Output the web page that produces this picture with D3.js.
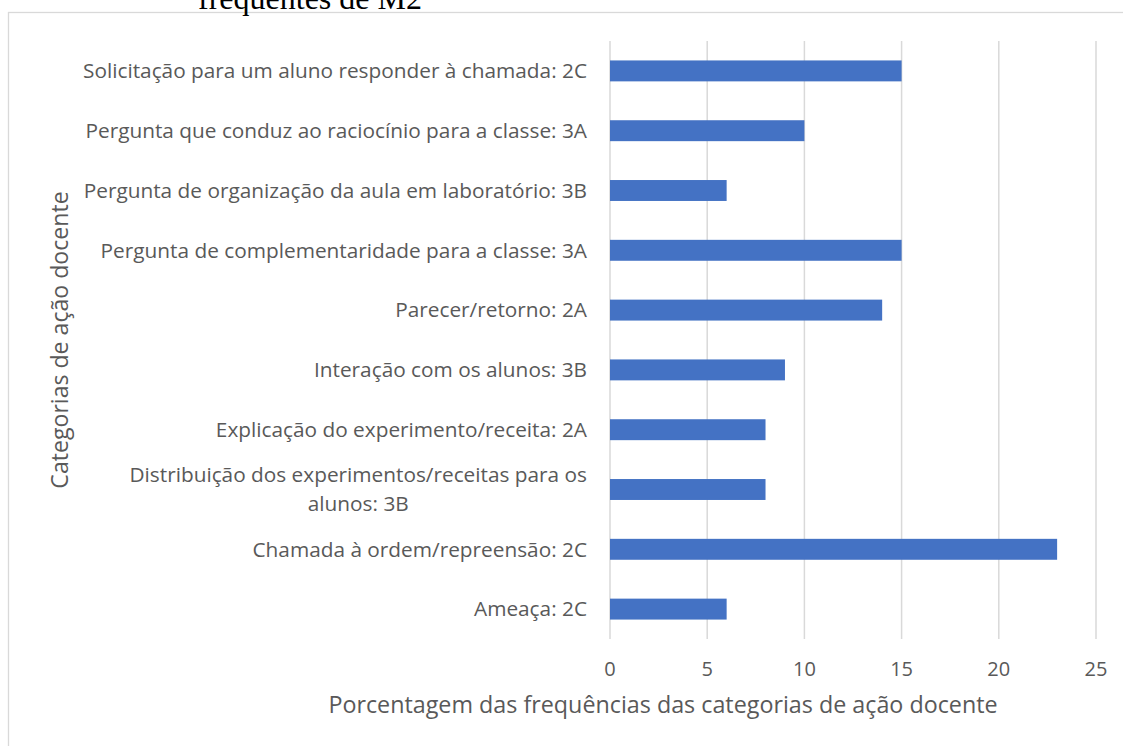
<!DOCTYPE html>
<html><head><meta charset="utf-8">
<script src="https://cdn.jsdelivr.net/npm/d3@7"></script>
<style>
html,body{margin:0;padding:0;background:#fff;}
svg{display:block;}
</style></head>
<body>
<svg id="chart" width="1123" height="746"></svg>
<script>
const categories = [
  "Solicitação para um aluno responder à chamada: 2C",
  "Pergunta que conduz ao raciocínio para a classe: 3A",
  "Pergunta de organização da aula em laboratório: 3B",
  "Pergunta de complementaridade para a classe: 3A",
  "Parecer/retorno: 2A",
  "Interação com os alunos: 3B",
  "Explicação do experimento/receita: 2A",
  "Distribuição dos experimentos/receitas para os alunos: 3B",
  "Chamada à ordem/repreensão: 2C",
  "Ameaça: 2C"
];
const categoryLines = [
  ["Solicitação para um aluno responder à chamada: 2C"],
  ["Pergunta que conduz ao raciocínio para a classe: 3A"],
  ["Pergunta de organização da aula em laboratório: 3B"],
  ["Pergunta de complementaridade para a classe: 3A"],
  ["Parecer/retorno: 2A"],
  ["Interação com os alunos: 3B"],
  ["Explicação do experimento/receita: 2A"],
  ["Distribuição dos experimentos/receitas para os", "alunos: 3B"],
  ["Chamada à ordem/repreensão: 2C"],
  ["Ameaça: 2C"]
];
const values = [15, 10, 6, 15, 14, 9, 8, 8, 23, 6];
const xTicks = [0, 5, 10, 15, 20, 25];
const titleText = "frequentes de M2";
const xTitle = "Porcentagem das frequências das categorias de ação docente";
const yTitle = "Categorias de ação docente";

const svg = d3.select("#chart");
const FONT = "'Open Sans', 'Noto Sans', sans-serif";
const TXT = "#595959";

// outer frame
svg.append("rect").attr("x", 8.5).attr("y", 12.5).attr("width", 1130).attr("height", 760)
  .attr("fill", "none").attr("stroke", "#d9d9d9").attr("stroke-width", 1.3);

// cut-off title from document
svg.append("text").attr("x", 310).attr("y", 9).attr("text-anchor", "middle")
  .attr("font-family", "'Liberation Serif', 'Times New Roman', serif")
  .attr("font-size", 32).attr("fill", "#000").text(titleText);

const x = d3.scaleLinear().domain([0, 25]).range([610, 1096]);
const y = d3.scaleBand().domain(categories).range([41, 639]).paddingInner(0.65).paddingOuter(0.325);

// gridlines
svg.append("g").selectAll("line").data(xTicks).join("line")
  .attr("x1", d => x(d)).attr("x2", d => x(d))
  .attr("y1", 41).attr("y2", 639)
  .attr("stroke", "#d9d9d9").attr("stroke-width", 1.5);

// bars
svg.append("g").selectAll("rect").data(values).join("rect")
  .attr("x", x(0))
  .attr("y", (d, i) => y(categories[i]))
  .attr("width", d => x(d) - x(0))
  .attr("height", y.bandwidth())
  .attr("fill", "#4472c4");

// x tick labels
svg.append("g").selectAll("text").data(xTicks).join("text")
  .attr("x", d => x(d)).attr("y", 676)
  .attr("text-anchor", "middle")
  .attr("font-family", FONT).attr("font-size", 20).attr("fill", TXT)
  .text(d => d);

// category labels
const LABEL_FS = 20.8;
const lineH = 29;
const lab = svg.append("g").selectAll("text").data(categoryLines).join("text")
  .attr("text-anchor", "end")
  .attr("font-family", FONT).attr("font-size", LABEL_FS).attr("fill", TXT)
  .attr("transform", (d, i) => `translate(587, ${y(categories[i]) + y.bandwidth() / 2})`);
lab.each(function (lines) {
  const t = d3.select(this);
  const n = lines.length;
  if (n === 1) {
    t.append("tspan").attr("x", 0).attr("dy", "0.35em").text(lines[0]);
  } else {
    t.attr("text-anchor", "middle");
    lines.forEach((l, k) => {
      t.append("tspan").attr("x", 0).attr("y", (k - (n - 1) / 2) * lineH).attr("dy", "0.35em").text(l);
    });
  }
});
// shift multi-line label so its widest line ends at 587
lab.filter(d => d.length > 1).each(function () {
  const w = d3.max(Array.from(this.querySelectorAll("tspan")), s => s.getComputedTextLength());
  const i = categoryLines.indexOf(d3.select(this).datum());
  d3.select(this).attr("transform", `translate(${587 - w / 2}, ${y(categories[i]) + y.bandwidth() / 2})`);
});

// axis titles
svg.append("text").attr("x", 663).attr("y", 713).attr("text-anchor", "middle")
  .attr("font-family", FONT).attr("font-size", 23.3).attr("fill", TXT).text(xTitle);
svg.append("text").attr("transform", "translate(60,340) rotate(-90)").attr("text-anchor", "middle")
  .attr("dy", "0.35em")
  .attr("font-family", FONT).attr("font-size", 23.1).attr("fill", TXT).text(yTitle);
</script>
</body></html>
